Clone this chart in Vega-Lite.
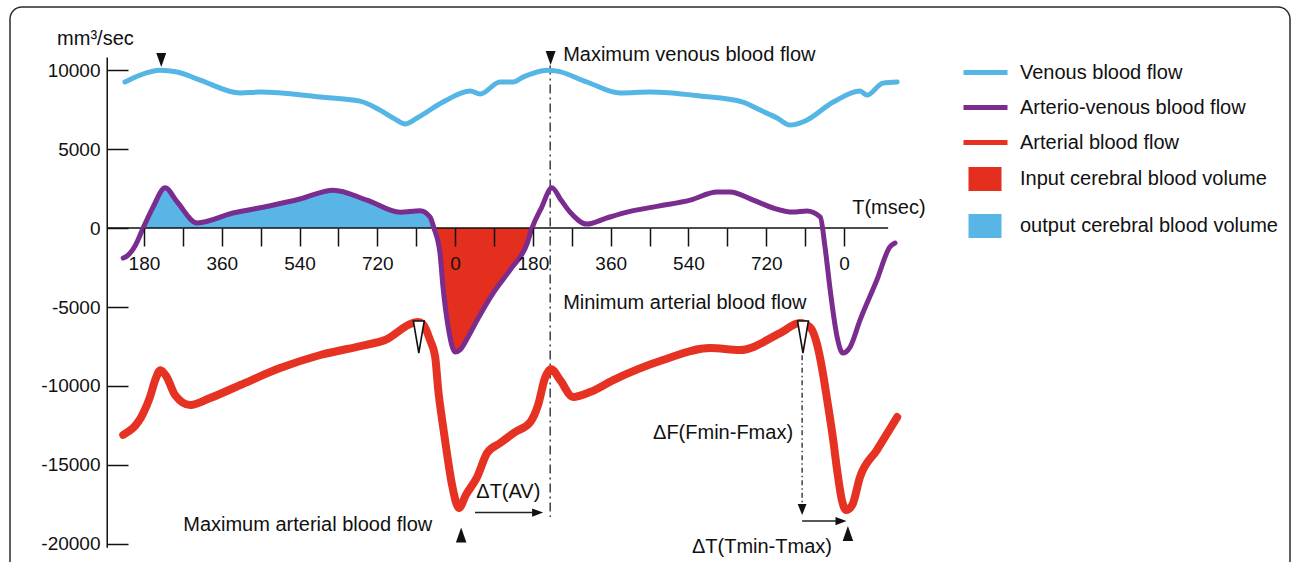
{
  "$schema": "https://vega.github.io/schema/vega-lite/v6.json",
  "width": 1280,
  "height": 600,
  "autosize": "none",
  "padding": {"left": 10, "top": 7, "right": 2, "bottom": 0},
  "background": "white",
  "config": {
    "view": {"stroke": "#2b2b2b", "strokeWidth": 1.5, "cornerRadius": 12},
    "font": "Liberation Sans",
    "text": {"font": "Liberation Sans", "fontSize": 20, "color": "#111111"},
    "line": {"strokeCap": "round", "strokeJoin": "round"}
  },
  "datasets": {
    "curves": [
      {"series": "Venous blood flow", "t": 136, "v": 9250},
      {"series": "Venous blood flow", "t": 171, "v": 9690},
      {"series": "Venous blood flow", "t": 217, "v": 10000},
      {"series": "Venous blood flow", "t": 257, "v": 9880},
      {"series": "Venous blood flow", "t": 310, "v": 9370},
      {"series": "Venous blood flow", "t": 403, "v": 8550},
      {"series": "Venous blood flow", "t": 449, "v": 8610},
      {"series": "Venous blood flow", "t": 588, "v": 8300},
      {"series": "Venous blood flow", "t": 680, "v": 8040},
      {"series": "Venous blood flow", "t": 726, "v": 7470},
      {"series": "Venous blood flow", "t": 761, "v": 6900},
      {"series": "Venous blood flow", "t": 784, "v": 6590},
      {"series": "Venous blood flow", "t": 812, "v": 6970},
      {"series": "Venous blood flow", "t": 872, "v": 7980},
      {"series": "Venous blood flow", "t": 935, "v": 8680},
      {"series": "Venous blood flow", "t": 958, "v": 8490},
      {"series": "Venous blood flow", "t": 1004, "v": 9250},
      {"series": "Venous blood flow", "t": 1034, "v": 9250},
      {"series": "Venous blood flow", "t": 1057, "v": 9560},
      {"series": "Venous blood flow", "t": 1113, "v": 10000},
      {"series": "Venous blood flow", "t": 1136, "v": 9940},
      {"series": "Venous blood flow", "t": 1205, "v": 9250},
      {"series": "Venous blood flow", "t": 1282, "v": 8550},
      {"series": "Venous blood flow", "t": 1351, "v": 8610},
      {"series": "Venous blood flow", "t": 1467, "v": 8360},
      {"series": "Venous blood flow", "t": 1566, "v": 7980},
      {"series": "Venous blood flow", "t": 1606, "v": 7470},
      {"series": "Venous blood flow", "t": 1645, "v": 6970},
      {"series": "Venous blood flow", "t": 1675, "v": 6520},
      {"series": "Venous blood flow", "t": 1710, "v": 6780},
      {"series": "Venous blood flow", "t": 1775, "v": 7980},
      {"series": "Venous blood flow", "t": 1837, "v": 8680},
      {"series": "Venous blood flow", "t": 1853, "v": 8420},
      {"series": "Venous blood flow", "t": 1890, "v": 9180},
      {"series": "Venous blood flow", "t": 1923, "v": 9250},

      {"series": "Arterio-venous blood flow", "t": 132, "v": -1900},
      {"series": "Arterio-venous blood flow", "t": 141, "v": -1770},
      {"series": "Arterio-venous blood flow", "t": 160, "v": -1100},
      {"series": "Arterio-venous blood flow", "t": 178, "v": 0},
      {"series": "Arterio-venous blood flow", "t": 201, "v": 1330},
      {"series": "Arterio-venous blood flow", "t": 229, "v": 2550},
      {"series": "Arterio-venous blood flow", "t": 257, "v": 1650},
      {"series": "Arterio-venous blood flow", "t": 303, "v": 320},
      {"series": "Arterio-venous blood flow", "t": 386, "v": 950},
      {"series": "Arterio-venous blood flow", "t": 470, "v": 1400},
      {"series": "Arterio-venous blood flow", "t": 541, "v": 1840},
      {"series": "Arterio-venous blood flow", "t": 618, "v": 2400},
      {"series": "Arterio-venous blood flow", "t": 696, "v": 1770},
      {"series": "Arterio-venous blood flow", "t": 773, "v": 1000},
      {"series": "Arterio-venous blood flow", "t": 819, "v": 1100},
      {"series": "Arterio-venous blood flow", "t": 842, "v": 700},
      {"series": "Arterio-venous blood flow", "t": 851, "v": 0},
      {"series": "Arterio-venous blood flow", "t": 865, "v": -1580},
      {"series": "Arterio-venous blood flow", "t": 872, "v": -3740},
      {"series": "Arterio-venous blood flow", "t": 884, "v": -6270},
      {"series": "Arterio-venous blood flow", "t": 900, "v": -7850},
      {"series": "Arterio-venous blood flow", "t": 912, "v": -7700},
      {"series": "Arterio-venous blood flow", "t": 930, "v": -6900},
      {"series": "Arterio-venous blood flow", "t": 951, "v": -5830},
      {"series": "Arterio-venous blood flow", "t": 988, "v": -4120},
      {"series": "Arterio-venous blood flow", "t": 1027, "v": -2660},
      {"series": "Arterio-venous blood flow", "t": 1067, "v": -950},
      {"series": "Arterio-venous blood flow", "t": 1078, "v": 0},
      {"series": "Arterio-venous blood flow", "t": 1100, "v": 1300},
      {"series": "Arterio-venous blood flow", "t": 1124, "v": 2550},
      {"series": "Arterio-venous blood flow", "t": 1145, "v": 1770},
      {"series": "Arterio-venous blood flow", "t": 1166, "v": 1010},
      {"series": "Arterio-venous blood flow", "t": 1205, "v": 250},
      {"series": "Arterio-venous blood flow", "t": 1250, "v": 630},
      {"series": "Arterio-venous blood flow", "t": 1298, "v": 1010},
      {"series": "Arterio-venous blood flow", "t": 1370, "v": 1390},
      {"series": "Arterio-venous blood flow", "t": 1444, "v": 1770},
      {"series": "Arterio-venous blood flow", "t": 1506, "v": 2280},
      {"series": "Arterio-venous blood flow", "t": 1536, "v": 2280},
      {"series": "Arterio-venous blood flow", "t": 1590, "v": 1770},
      {"series": "Arterio-venous blood flow", "t": 1636, "v": 1270},
      {"series": "Arterio-venous blood flow", "t": 1682, "v": 1010},
      {"series": "Arterio-venous blood flow", "t": 1714, "v": 1080},
      {"series": "Arterio-venous blood flow", "t": 1745, "v": 700},
      {"series": "Arterio-venous blood flow", "t": 1756, "v": -1200},
      {"series": "Arterio-venous blood flow", "t": 1768, "v": -3930},
      {"series": "Arterio-venous blood flow", "t": 1784, "v": -6900},
      {"series": "Arterio-venous blood flow", "t": 1797, "v": -7920},
      {"series": "Arterio-venous blood flow", "t": 1814, "v": -7540},
      {"series": "Arterio-venous blood flow", "t": 1837, "v": -5830},
      {"series": "Arterio-venous blood flow", "t": 1876, "v": -3290},
      {"series": "Arterio-venous blood flow", "t": 1906, "v": -1200},
      {"series": "Arterio-venous blood flow", "t": 1918, "v": -950},

      {"series": "Arterial blood flow", "t": 132, "v": -13100},
      {"series": "Arterial blood flow", "t": 178, "v": -11750},
      {"series": "Arterial blood flow", "t": 194, "v": -10700},
      {"series": "Arterial blood flow", "t": 206, "v": -9630},
      {"series": "Arterial blood flow", "t": 218, "v": -9000},
      {"series": "Arterial blood flow", "t": 232, "v": -9400},
      {"series": "Arterial blood flow", "t": 252, "v": -10580},
      {"series": "Arterial blood flow", "t": 287, "v": -11210},
      {"series": "Arterial blood flow", "t": 333, "v": -10770},
      {"series": "Arterial blood flow", "t": 403, "v": -9940},
      {"series": "Arterial blood flow", "t": 495, "v": -8870},
      {"series": "Arterial blood flow", "t": 588, "v": -8040},
      {"series": "Arterial blood flow", "t": 692, "v": -7410},
      {"series": "Arterial blood flow", "t": 738, "v": -7090},
      {"series": "Arterial blood flow", "t": 803, "v": -6000},
      {"series": "Arterial blood flow", "t": 814, "v": -5950},
      {"series": "Arterial blood flow", "t": 826, "v": -6100},
      {"series": "Arterial blood flow", "t": 842, "v": -7090},
      {"series": "Arterial blood flow", "t": 854, "v": -8170},
      {"series": "Arterial blood flow", "t": 861, "v": -10260},
      {"series": "Arterial blood flow", "t": 870, "v": -12160},
      {"series": "Arterial blood flow", "t": 881, "v": -14250},
      {"series": "Arterial blood flow", "t": 893, "v": -16280},
      {"series": "Arterial blood flow", "t": 909, "v": -17730},
      {"series": "Arterial blood flow", "t": 925, "v": -16900},
      {"series": "Arterial blood flow", "t": 951, "v": -15770},
      {"series": "Arterial blood flow", "t": 974, "v": -14250},
      {"series": "Arterial blood flow", "t": 1004, "v": -13620},
      {"series": "Arterial blood flow", "t": 1039, "v": -12920},
      {"series": "Arterial blood flow", "t": 1074, "v": -12290},
      {"series": "Arterial blood flow", "t": 1092, "v": -11210},
      {"series": "Arterial blood flow", "t": 1108, "v": -9500},
      {"series": "Arterial blood flow", "t": 1122, "v": -8930},
      {"series": "Arterial blood flow", "t": 1143, "v": -9630},
      {"series": "Arterial blood flow", "t": 1173, "v": -10700},
      {"series": "Arterial blood flow", "t": 1212, "v": -10390},
      {"series": "Arterial blood flow", "t": 1266, "v": -9630},
      {"series": "Arterial blood flow", "t": 1381, "v": -8360},
      {"series": "Arterial blood flow", "t": 1490, "v": -7600},
      {"series": "Arterial blood flow", "t": 1559, "v": -7730},
      {"series": "Arterial blood flow", "t": 1652, "v": -6650},
      {"series": "Arterial blood flow", "t": 1698, "v": -6020},
      {"series": "Arterial blood flow", "t": 1721, "v": -6270},
      {"series": "Arterial blood flow", "t": 1738, "v": -7410},
      {"series": "Arterial blood flow", "t": 1751, "v": -9180},
      {"series": "Arterial blood flow", "t": 1761, "v": -10890},
      {"series": "Arterial blood flow", "t": 1775, "v": -13430},
      {"series": "Arterial blood flow", "t": 1784, "v": -15330},
      {"series": "Arterial blood flow", "t": 1795, "v": -17230},
      {"series": "Arterial blood flow", "t": 1805, "v": -17860},
      {"series": "Arterial blood flow", "t": 1819, "v": -17540},
      {"series": "Arterial blood flow", "t": 1837, "v": -15770},
      {"series": "Arterial blood flow", "t": 1876, "v": -14060},
      {"series": "Arterial blood flow", "t": 1923, "v": -11970}
    ],
    "axislines": [
      {"t": 95, "v": 10800, "t2": 95, "v2": -20250},
      {"t": 95, "v": 0, "t2": 1902, "v2": 0}
    ],
    "avline": [{"t": 1120, "v": 10300, "t2": 1120, "v2": -18300}],
    "fline": [{"t": 1703, "v": -8050, "t2": 1703, "v2": -17600}],
    "arrows": [
      {"t": 946, "v": -18020, "t2": 1086, "v2": -18020},
      {"t": 1703, "v": -18556, "t2": 1785, "v2": -18556}
    ],
    "headsRight": [{"t": 1091, "v": -18020}, {"t": 1793, "v": -18556}],
    "headsDown": [{"t": 1703, "v": -17830}],
    "topTri": [{"t": 220, "v": 10640}, {"t": 1121, "v": 10770}],
    "whiteTri": [{"t": 816, "v": -6900}, {"t": 1705, "v": -6900}],
    "upTri": [{"t": 914, "v": -19440}, {"t": 1809, "v": -19350}],
    "textLeft": [
      {"label": "Maximum venous blood flow", "t": 1150, "v": 10960},
      {"label": "Minimum arterial blood flow", "t": 1150, "v": -4750},
      {"label": "ΔT(AV)", "t": 949, "v": -16720},
      {"label": "T(msec)", "t": 1819, "v": 1270},
      {"label": "mm³/sec", "t": -21, "v": 11970}
    ],
    "textRight": [
      {"label": "Maximum arterial blood flow", "t": 847, "v": -18810},
      {"label": "ΔF(Fmin-Fmax)", "t": 1682, "v": -12980},
      {"label": "ΔT(Tmin-Tmax)", "t": 1772, "v": -20200}
    ]
  },
  "encoding": {
    "x": {
      "field": "t", "type": "quantitative",
      "scale": {"domain": [-130, 2832], "nice": false, "zero": false},
      "axis": {
        "values": [180, 270, 360, 450, 540, 630, 720, 810, 900, 990, 1080, 1170, 1260, 1350, 1440, 1530, 1620, 1710, 1800],
        "labelExpr": "datum.value % 180 == 0 ? '' + (datum.value % 900) : ''",
        "offset": -379, "domain": false, "grid": false,
        "tickSize": 18, "tickWidth": 1.5, "tickColor": "#111111",
        "labelFontSize": 19, "labelFont": "Liberation Sans", "labelColor": "#111111",
        "labelPadding": 8, "labelOverlap": false, "labelFlush": false,
        "title": null, "zindex": 1
      }
    },
    "y": {
      "field": "v", "type": "quantitative",
      "scale": {"domain": [-24000, 14000], "nice": false, "zero": false},
      "axis": {
        "values": [10000, 5000, 0, -5000, -10000, -15000, -20000],
        "labelExpr": "'' + datum.value", "offset": -97, "domain": false, "grid": false,
        "tickSize": -21, "tickWidth": 1.5, "tickColor": "#111111",
        "labelPadding": 28, "labelFontSize": 19, "labelFont": "Liberation Sans", "labelColor": "#111111",
        "title": null, "zindex": 1
      }
    }
  },
  "resolve": {"scale": {"color": "independent"}},
  "layer": [
    {
      "layer": [
        {
          "data": {"name": "curves"},
          "transform": [{"filter": "datum.series == 'Arterio-venous blood flow' && datum.t >= 178 && datum.t <= 851"}],
          "mark": {"type": "area", "interpolate": "monotone", "opacity": 1},
          "encoding": {
            "y2": {"datum": 0},
            "color": {
              "datum": "output cerebral blood volume",
              "scale": {
                "domain": ["Input cerebral blood volume", "output cerebral blood volume"],
                "range": ["#E42E1E", "#58B5E5"]
              },
              "legend": {
                "orient": "none", "legendX": 953, "legendY": 150, "title": null,
                "labelFontSize": 20, "labelFont": "Liberation Sans", "labelColor": "#111111",
                "labelOffset": 13, "labelLimit": 400, "symbolSize": 1936, "rowPadding": 12,
                "symbolType": "M-0.75,-0.55H0.75V0.55H-0.75Z", "symbolStrokeWidth": 0, "symbolOpacity": 1
              }
            }
          }
        },
        {
          "data": {"name": "curves"},
          "transform": [{"filter": "datum.series == 'Arterio-venous blood flow' && datum.t >= 851 && datum.t <= 1078"}],
          "mark": {"type": "area", "interpolate": "monotone", "opacity": 1},
          "encoding": {
            "y2": {"datum": 0},
            "color": {"datum": "Input cerebral blood volume"}
          }
        }
      ]
    },
    {
      "data": {"name": "axislines"},
      "mark": {"type": "rule", "color": "#111111", "strokeWidth": 1.5},
      "encoding": {"x2": {"field": "t2"}, "y2": {"field": "v2"}}
    },
    {
      "data": {"name": "avline"},
      "mark": {"type": "rule", "color": "#222222", "strokeWidth": 1.3, "strokeDash": [9, 4, 2, 4]},
      "encoding": {"x2": {"field": "t2"}, "y2": {"field": "v2"}}
    },
    {
      "data": {"name": "fline"},
      "mark": {"type": "rule", "color": "#222222", "strokeWidth": 1.3, "strokeDash": [5, 3, 1.5, 3]},
      "encoding": {"x2": {"field": "t2"}, "y2": {"field": "v2"}}
    },
    {
      "data": {"name": "arrows"},
      "mark": {"type": "rule", "color": "#222222", "strokeWidth": 1.5},
      "encoding": {"x2": {"field": "t2"}, "y2": {"field": "v2"}}
    },
    {
      "data": {"name": "headsRight"},
      "mark": {"type": "point", "shape": "M-1,-0.75L1,0L-1,0.75Z", "size": 121, "filled": true, "color": "#111111", "opacity": 1}
    },
    {
      "data": {"name": "headsDown"},
      "mark": {"type": "point", "shape": "M-0.8,-1L0.8,-1L0,1Z", "size": 121, "filled": true, "color": "#111111", "opacity": 1}
    },
    {
      "layer": [
        {
          "data": {"name": "curves"},
          "transform": [{"filter": "datum.series != 'Arterial blood flow'"}],
          "mark": {"type": "line", "interpolate": "monotone", "strokeWidth": 5},
          "encoding": {
            "color": {
              "field": "series", "type": "nominal",
              "scale": {
                "domain": ["Venous blood flow", "Arterio-venous blood flow", "Arterial blood flow"],
                "range": ["#55B6E6", "#7B2C8F", "#E63222"]
              },
              "legend": {
                "orient": "none", "legendX": 951, "legendY": 41, "title": null,
                "labelFontSize": 20, "labelFont": "Liberation Sans", "labelColor": "#111111",
                "labelOffset": 10, "labelLimit": 400, "symbolSize": 1936, "rowPadding": -10,
                "symbolType": "stroke", "symbolStrokeWidth": 5, "symbolOpacity": 1
              }
            }
          }
        },
        {
          "data": {"name": "curves"},
          "transform": [{"filter": "datum.series == 'Arterial blood flow'"}],
          "mark": {"type": "line", "interpolate": "monotone", "strokeWidth": 8},
          "encoding": {
            "color": {"field": "series", "type": "nominal"}
          }
        }
      ]
    },
    {
      "data": {"name": "topTri"},
      "mark": {"type": "point", "shape": "M-0.71,-1L0.71,-1L0,1Z", "size": 196, "filled": true, "color": "#111111", "opacity": 1}
    },
    {
      "data": {"name": "whiteTri"},
      "mark": {"type": "point", "shape": "M-0.34,-1L0.34,-1L0,1Z", "size": 1024, "filled": true, "fill": "white", "stroke": "#111111", "strokeWidth": 1.6, "opacity": 1}
    },
    {
      "data": {"name": "upTri"},
      "mark": {"type": "point", "shape": "M-0.7,1L0.7,1L0,-1Z", "size": 225, "filled": true, "color": "#111111", "opacity": 1}
    },
    {
      "data": {"name": "textLeft"},
      "mark": {"type": "text", "align": "left", "baseline": "middle", "fontSize": 20},
      "encoding": {"text": {"field": "label"}}
    },
    {
      "data": {"name": "textRight"},
      "mark": {"type": "text", "align": "right", "baseline": "middle", "fontSize": 20},
      "encoding": {"text": {"field": "label"}}
    }
  ]
}
